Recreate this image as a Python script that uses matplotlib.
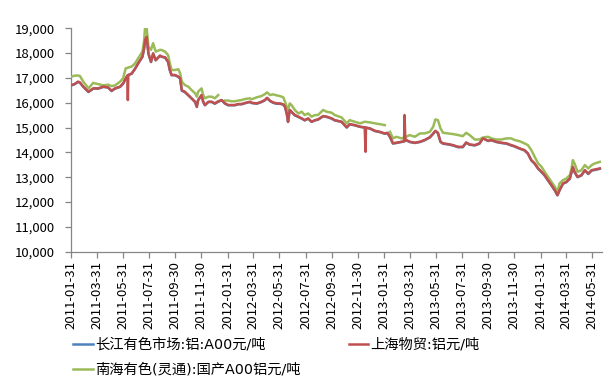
import matplotlib
matplotlib.use("Agg")
import matplotlib.pyplot as plt
import matplotlib.ticker as mticker
import numpy as np
import pandas as pd

plt.rcParams['font.family'] = ['Noto Sans CJK SC', 'DejaVu Sans']

start_date = "2011-01-31"
end_date = "2014-06-22"

# days after start_date
day_offset = [0, 7, 16, 20, 28, 40, 51, 63, 75, 86, 94, 102, 114, 121, 127, 131, 132, 133, 141, 149,
              156, 166, 170, 172, 176, 180, 186, 191, 197, 207, 211, 219, 226, 230, 234, 242, 250, 254, 258, 265,
              273, 281, 289, 293, 296, 304, 308, 312, 320, 328, 335, 343, 351, 359, 366, 374, 382, 390, 398, 405,
              417, 421, 433, 444, 452, 457, 464, 471, 479, 487, 495, 499, 503, 506, 510, 514, 522, 530, 538, 545,
              553, 561, 569, 576, 588, 596, 608, 615, 631, 643, 650, 662, 674, 685, 687, 688, 697, 709, 720, 732,
              738, 744, 751, 759, 771, 777, 778, 780, 782, 790, 802, 814, 825, 837, 845, 850, 856, 862, 868, 880,
              891, 903, 914, 922, 930, 942, 953, 961, 973, 981, 992, 1004, 1016, 1027, 1035, 1047, 1058, 1066, 1074, 1082,
              1090, 1098, 1105, 1113, 1121, 1129, 1135, 1140, 1148, 1156, 1164, 1168, 1171, 1175, 1182, 1191, 1199, 1207, 1215, 1222,
              1234]

shanghai = [16710, 16750, 16850, 16820, 16650, 16445, 16580, 16580, 16650, 16620, 16485, 16580, 16650, 16780, 16985, 17100, 16110, 17120, 17180, 17380,
            17590, 17860, 18200, 18530, 18660, 17990, 17650, 17990, 17720, 17900, 17860, 17830, 17650, 17320, 17120, 17120, 17050, 16985, 16510, 16445,
            16310, 16180, 16040, 15840, 16110, 16310, 16040, 15910, 16040, 16040, 15975, 16060, 16110, 15975, 15910, 15910, 15910, 15950, 15950, 15990,
            16040, 16000, 15975, 16040, 16110, 16200, 16080, 16015, 15975, 15975, 15935, 15840, 15570, 15235, 15710, 15640, 15505, 15440, 15370, 15300,
            15370, 15235, 15300, 15330, 15465, 15440, 15370, 15300, 15235, 15010, 15140, 15100, 15035, 15010, 14025, 15000, 14970, 14870, 14830, 14765,
            14790, 14630, 14365, 14390, 14430, 14450, 15505, 14480, 14500, 14430, 14390, 14430, 14500, 14610, 14765, 14870, 14790, 14430, 14365, 14335,
            14295, 14225, 14225, 14400, 14320, 14295, 14365, 14565, 14470, 14500, 14430, 14390, 14365, 14295, 14250, 14160, 14095, 13960, 13690, 13555,
            13355, 13220, 13085, 12885, 12680, 12480, 12280, 12480, 12750, 12815, 12950, 13220, 13420, 13220, 13015, 13085, 13285, 13150, 13285, 13310,
            13355]

changjiang = [16700, 16740, 16840, 16810, 16640, 16430, 16570, 16570, 16640, 16610, 16470, 16570, 16640, 16770, 16970, 17090, 17100, 17110, 17170, 17370,
              17580, 17850, 18190, 18520, 18650, 17980, 17640, 17980, 17710, 17890, 17850, 17820, 17640, 17310, 17110, 17110, 17040, 16970, 16480, 16430,
              16300, 16170, 16030, 15830, 16100, 16300, 16030, 15900, 16030, 16030, 15960, 16040, 16100, 15960, 15900, 15900, 15900, 15940, 15940, 15980,
              16030, 15990, 15960, 16030, 16100, 16190, 16070, 16000, 15960, 15960, 15920, 15830, 15560, 15230, 15700, 15630, 15490, 15430, 15360, 15290,
              15360, 15230, 15290, 15320, 15450, 15430, 15360, 15290, 15230, 15000, 15130, 15090, 15030, 15000, 15000, 14990, 14960, 14860, 14820, 14750,
              14780, 14620, 14360, 14380, 14420, 14440, 14450, 14470, 14490, 14420, 14380, 14420, 14490, 14600, 14750, 14860, 14780, 14420, 14350, 14320,
              14280, 14210, 14210, 14390, 14310, 14280, 14350, 14580, 14460, 14490, 14420, 14380, 14350, 14280, 14240, 14150, 14080, 13950, 13680, 13540,
              13340, 13200, 13070, 12870, 12670, 12460, 12270, 12470, 12740, 12800, 12940, 13200, 13400, 13200, 13000, 13070, 13270, 13130, 13270, 13290,
              13340]

nanhai = [17050, 17090, 17100, 17080, 16850, 16580, 16800, 16750, 16700, 16730, 16670, 16700, 16850, 16990, 17390, 17400, 17410, 17420, 17460, 17590,
          17790, 18060, 18500, 19000, 19000, 18260, 18130, 18400, 18060, 18130, 18125, 18060, 17920, 17590, 17320, 17320, 17350, 17185, 16850, 16715,
          16650, 16510, 16380, 16245, 16445, 16580, 16310, 16180, 16245, 16245, 16180, 16310, np.nan, 16090, 16090, 16060, 16060, 16090, 16110, 16150,
          16180, 16140, 16220, 16270, 16350, 16420, 16310, 16340, 16300, 16270, 16220, 16040, 15840, 15710, 15975, 15910, 15710, 15570, 15640, 15505,
          15570, 15440, 15505, 15505, 15710, 15640, 15600, 15505, 15410, 15170, 15300, 15235, 15170, 15235, 15232, 15230, 15210, 15170, 15140, 15100,
          np.nan, 14830, 14565, 14630, 14565, 14600, 14610, 14620, 14630, 14700, 14630, 14765, 14765, 14830, 15035, 15330, 15300, 14970, 14790, 14765,
          14740, 14700, 14655, 14790, 14700, 14520, 14520, 14600, 14630, 14565, 14520, 14520, 14565, 14565, 14500, 14450, 14365, 14295, 14095, 13820,
          13555, 13420, 13220, 13015, 12815, 12615, 12410, 12750, 12885, 12950, 13085, 13355, 13690, 13555, 13220, 13285, 13490, 13355, 13490, 13555,
          13620]

series_names = ["长江有色市场:铝:A00元/吨", "上海物贸:铝元/吨", "南海有色(灵通):国产A00铝元/吨"]
series_colors = ["#4F81BD", "#C0504D", "#9BBB59"]

dates = pd.Timestamp(start_date) + pd.to_timedelta(day_offset, unit="D")
tick_dates = pd.date_range(start_date, "2014-05-31", freq="2ME")

fig = plt.figure(figsize=(6.07, 3.84), dpi=100)
ax = fig.add_axes([0.1175, 0.3445, 0.8735, 0.5818])

lw = 1.8
l_cj, = ax.plot(dates, changjiang, color=series_colors[0], lw=lw, label=series_names[0], zorder=2)
l_nh, = ax.plot(dates, nanhai, color=series_colors[2], lw=lw, label=series_names[2], zorder=3)
l_sh, = ax.plot(dates, shanghai, color=series_colors[1], lw=lw, label=series_names[1], zorder=4)

ax.set_xlim(pd.Timestamp(start_date), pd.Timestamp(end_date))
ax.set_ylim(10000, 19000)
ax.yaxis.set_major_locator(mticker.MultipleLocator(1000))
ax.yaxis.set_major_formatter(mticker.FuncFormatter(lambda v, p: f"{int(v):,}"))
ax.set_xticks(tick_dates)
ax.set_xticklabels([d.strftime("%Y-%m-%d") for d in tick_dates], rotation=90)

for s in ["top", "right"]:
    ax.spines[s].set_visible(False)
for s in ["left", "bottom"]:
    ax.spines[s].set_color("#868686")
    ax.spines[s].set_linewidth(0.9)
ax.tick_params(axis="both", direction="out", color="#868686", length=4, width=0.9,
               labelsize=9.5, labelcolor="black")
ax.tick_params(axis="y", pad=8)
ax.tick_params(axis="x", pad=3)

fig.legend(handles=[l_cj, l_nh, l_sh], labels=[series_names[0], series_names[2], series_names[1]],
           ncol=2, loc="upper left", bbox_to_anchor=(0.121, 0.12), frameon=False,
           prop={"family": ["DejaVu Sans", "Noto Sans CJK SC"], "size": 10.3},
           handlelength=1.35, handletextpad=0.15, columnspacing=3.4,
           labelspacing=0.75, borderaxespad=0, borderpad=0)

fig.savefig("out.png", dpi=100)
